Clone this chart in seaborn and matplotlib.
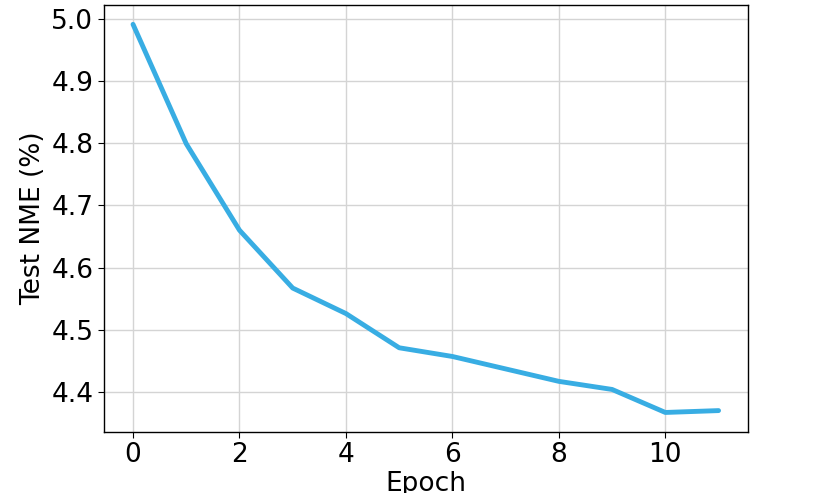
import matplotlib
matplotlib.use("Agg")
import matplotlib.pyplot as plt
import numpy as np
import pandas as pd
import seaborn as sns

""" Data """
epochs = [0, 1, 2, 3, 4, 5, 6, 7, 8, 9, 10, 11]
test_nme = [4.991, 4.799, 4.660, 4.567, 4.526, 4.471, 4.457, 4.437, 4.417, 4.404, 4.367, 4.370]

""" Parameter settings """
sns.set_style("whitegrid")
plt.rcParams["font.family"] = ["DejaVu Sans"]
plt.rcParams.update(
    {
        "axes.edgecolor": "black",
        "axes.linewidth": 1.0,
        "axes.labelcolor": "black",
        "text.color": "black",
        "grid.color": "#d4d4d4",
        "grid.linewidth": 1.0,
        "xtick.bottom": True,
        "ytick.left": True,
        "xtick.major.size": 4.5,
        "ytick.major.size": 4.5,
        "xtick.color": "black",
        "ytick.color": "black",
        "xtick.labelcolor": "black",
        "ytick.labelcolor": "black",
    }
)

df = pd.DataFrame({"Epoch": epochs, "Test NME (%)": test_nme})

fig = plt.figure(figsize=(8.3, 4.93), dpi=100)
ax = fig.add_axes([0.125, 0.124, 0.776, 0.866])
sns.lineplot(data=df, x="Epoch", y="Test NME (%)", color="#38ade3", linewidth=3.5, ax=ax)

ax.set_xticks([0, 2, 4, 6, 8, 10])
ax.set_yticks([4.4, 4.5, 4.6, 4.7, 4.8, 4.9, 5.0])
ax.tick_params(axis="both", labelsize=19, pad=3)
ax.set_xlabel("Epoch", fontsize=19, labelpad=2)
ax.set_ylabel("Test NME (%)", fontsize=19)

plt.savefig("out.png", dpi=100)
